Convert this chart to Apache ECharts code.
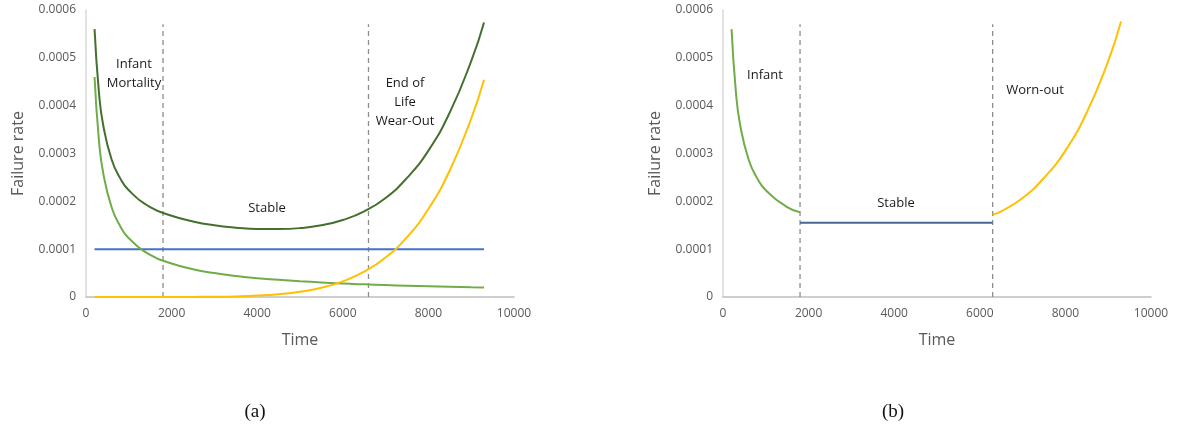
<!DOCTYPE html>
<html>
<head>
<meta charset="utf-8">
<script src="https://cdn.jsdelivr.net/npm/echarts@6/dist/echarts.min.js"></script>
<style>
  html, body { margin: 0; padding: 0; background: #fff; }
</style>
</head>
<body>
<div id="main" style="width: 1179px;height:436px;"></div>
<script type="text/javascript">

    // (a) bathtub components
    var timeA = [200, 300, 400, 600, 800, 1000, 1500, 2000, 2500, 3000, 3500, 4000, 4500,
        5000, 5500, 6000, 6500, 7000, 7500, 8000, 8500, 9000, 9300];
    var infantA = [0.00046, 0.00033, 0.00026, 0.000187, 0.000148, 0.000123, 0.000088, 0.00007,
        0.000058, 0.00005, 0.000044, 0.000039, 0.000036, 0.000033, 0.0000305, 0.000028,
        0.0000264, 0.000025, 0.0000236, 0.0000223, 0.0000212, 0.0000203, 0.00002];
    var wearA = [0, 0, 0, 0, 0, 0, 0, 0, 0.0000002, 0.0000005, 0.0000013, 0.0000029, 0.0000058,
        0.0000109, 0.0000194, 0.0000327, 0.0000528, 0.0000825, 0.000125, 0.000184, 0.000265,
        0.000373, 0.000454];
    var totalA = [0.00056, 0.00043, 0.00036, 0.000287, 0.000248, 0.000223, 0.000188, 0.00017,
        0.000158, 0.00015, 0.000145, 0.000142, 0.000142, 0.000144, 0.00015, 0.000161, 0.000179,
        0.000207, 0.000249, 0.000306, 0.000386, 0.000493, 0.000574];
    var constTime = [200, 9300];
    var constA = [0.0001, 0.0001];
    var dividersA = [1800, 6600];

    // (b) piecewise version
    var infantTimeB = [200, 300, 400, 600, 800, 1000, 1500, 1800];
    var infantB = [0.00056, 0.00043, 0.00036, 0.000287, 0.000248, 0.000223, 0.000188, 0.000177];
    var stableTimeB = [1800, 6300];
    var stableB = [0.000155, 0.000155];
    var wearTimeB = [6300, 6500, 7000, 7500, 8000, 8500, 9000, 9300];
    var wearB = [0.000172, 0.000179, 0.000207, 0.000249, 0.000306, 0.000386, 0.000493, 0.000576];
    var dividersB = [1800, 6300];

    var dividerTop = 0.00057;

    function pairs(xs, ys) {
        var out = [];
        for (var i = 0; i < xs.length; i++) out.push([xs[i], ys[i]]);
        return out;
    }

    function curve(idx, xs, ys, color, smooth) {
        return {
            type: 'line', xAxisIndex: idx, yAxisIndex: idx,
            data: pairs(xs, ys), showSymbol: false, symbol: 'none',
            smooth: smooth,
            lineStyle: {color: color, width: 2}
        };
    }

    function divider(idx, x) {
        return {
            type: 'line', xAxisIndex: idx, yAxisIndex: idx,
            data: [[x, 0], [x, dividerTop]], symbol: 'none',
            lineStyle: {color: '#8c8c8c', width: 1.3, type: [5, 4]}
        };
    }

    var labelFont = {fontFamily: 'Open Sans', fontSize: 12, color: '#595959'};

    function xAxisOf(idx) {
        return {
            type: 'value', gridIndex: idx, min: 0, max: 10000, interval: 2000,
            splitLine: {show: false}, axisTick: {show: false},
            axisLine: {lineStyle: {color: '#bfbfbf', width: 1.5}},
            axisLabel: Object.assign({
                margin: 11,
                formatter: function (v) { return String(v); }
            }, labelFont),
            name: 'Time', nameLocation: 'middle', nameGap: 35,
            nameTextStyle: {fontFamily: 'Open Sans', fontSize: 16, color: '#595959'}
        };
    }

    function yAxisOf(idx) {
        return {
            type: 'value', gridIndex: idx, min: 0, max: 0.0006, interval: 0.0001,
            splitLine: {show: false}, axisTick: {show: false},
            axisLine: {show: true, lineStyle: {color: '#d9d9d9', width: 1.5}},
            axisLabel: Object.assign({
                margin: 10,
                formatter: function (v) { return v === 0 ? '0' : v.toFixed(4); }
            }, labelFont),
            name: 'Failure rate', nameLocation: 'middle', nameGap: 60,
            nameTextStyle: {fontFamily: 'Open Sans', fontSize: 16, color: '#595959'}
        };
    }

    function note(x, y, text) {
        return {
            type: 'text', x: x, y: y,
            style: {text: text, fontFamily: 'Open Sans', fontSize: 13, fill: '#1a1a1a',
                align: 'center', verticalAlign: 'middle', lineHeight: 19}
        };
    }

    function caption(x, y, text) {
        return {
            type: 'text', x: x, y: y,
            style: {text: text, fontFamily: 'Liberation Serif', fontSize: 19, fill: '#111',
                align: 'center', verticalAlign: 'middle'}
        };
    }

    var option = {
        animation: false,
        grid: [
            {left: 86, top: 10, width: 428, height: 287},
            {left: 723, top: 10, width: 428, height: 287}
        ],
        xAxis: [xAxisOf(0), xAxisOf(1)],
        yAxis: [yAxisOf(0), yAxisOf(1)],
        series: [
            divider(0, dividersA[0]),
            divider(0, dividersA[1]),
            curve(0, constTime, constA, '#4472C4', false),
            curve(0, timeA, infantA, '#70AD47', 0.5),
            curve(0, timeA, wearA, '#FFC000', 0.5),
            curve(0, timeA, totalA, '#44702d', 0.5),
            divider(1, dividersB[0]),
            divider(1, dividersB[1]),
            curve(1, infantTimeB, infantB, '#70AD47', 0.5),
            curve(1, stableTimeB, stableB, '#4a6594', false),
            curve(1, wearTimeB, wearB, '#FFC000', 0.5)
        ],
        graphic: [
            note(134, 74, 'Infant\nMortality'),
            note(267, 208, 'Stable'),
            note(405, 102, 'End of\nLife\nWear-Out'),
            note(765, 75, 'Infant'),
            note(896, 203, 'Stable'),
            note(1035, 90, 'Worn-out'),
            caption(255, 412, '(a)'),
            caption(893, 412, '(b)')
        ]
    };

    var myChart = echarts.init(document.getElementById('main'));
    myChart.setOption(option);
</script>
</body>
</html>
